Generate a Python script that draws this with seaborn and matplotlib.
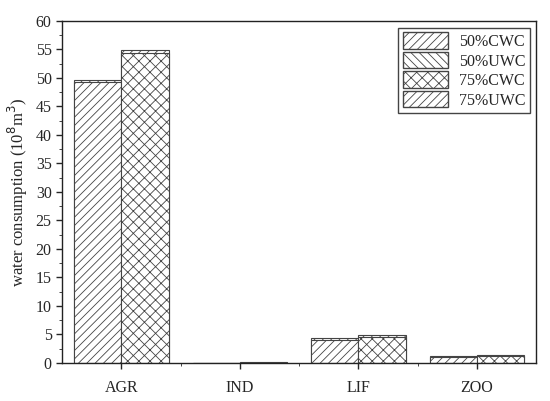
import numpy as np
import pandas as pd
import matplotlib
matplotlib.use('Agg')
import matplotlib.pyplot as plt
import seaborn as sns
from matplotlib.patches import Patch
from matplotlib.ticker import MultipleLocator, AutoMinorLocator

sns.set_style('ticks')
plt.rcParams['font.family'] = ['Liberation Serif', 'DejaVu Serif']
plt.rcParams['hatch.linewidth'] = 0.6
plt.rcParams['hatch.color'] = '#777777'

## data ##
sectors = ['AGR', 'IND', 'LIF', 'ZOO']
cwc_50 = [49.3, 0.05, 4.1, 1.1]
uwc_50 = [0.4, 0.02, 0.25, 0.15]
cwc_75 = [54.4, 0.06, 4.6, 1.25]
uwc_75 = [0.5, 0.02, 0.3, 0.15]

df = pd.DataFrame({
    'sector': sectors * 2,
    'level': ['50%'] * 4 + ['75%'] * 4,
    'cwc': cwc_50 + cwc_75,
    'total': list(np.add(cwc_50, uwc_50)) + list(np.add(cwc_75, uwc_75)),
})

fig = plt.figure(figsize=(5.5, 4.01), dpi=100)
ax = fig.add_axes([0.113, 0.095, 0.862, 0.853])

pal = {'50%': 'white', '75%': 'white'}
# totals first (UWC shows as the strip on top), then CWC over it
sns.barplot(data=df, x='sector', y='total', hue='level', palette=pal,
            edgecolor='#444444', linewidth=0.8, ax=ax, legend=False)
sns.barplot(data=df, x='sector', y='cwc', hue='level', palette=pal,
            edgecolor='#444444', linewidth=0.8, ax=ax, legend=False)

hatches = ['\\\\\\\\'] * 4 + ['////'] * 4 + ['////'] * 4 + ['xxx'] * 4
for p, h in zip(ax.patches, hatches):
    p.set_hatch(h)

ax.set_xlim(-0.5, 3.5)
ax.set_ylim(0, 60)
ax.yaxis.set_major_locator(MultipleLocator(5))
ax.yaxis.set_minor_locator(AutoMinorLocator(2))
ax.set_xticks(range(4))
ax.set_xticks([0.5, 1.5, 2.5], minor=True)
ax.tick_params(axis='both', direction='out', length=4, width=1, labelsize=11.5)
ax.tick_params(axis='both', which='minor', direction='out', length=2.5)
ax.tick_params(axis='x', pad=8)
for s in ax.spines.values():
    s.set_color('#222222')
    s.set_linewidth(1)
ax.set_xlabel('')
ax.set_ylabel('water consumption (10$^8$m$^3$)', fontsize=12)

handles = [Patch(facecolor='white', edgecolor='#444444', hatch='////', label='50%CWC'),
           Patch(facecolor='white', edgecolor='#444444', hatch='\\\\\\\\', label='50%UWC'),
           Patch(facecolor='white', edgecolor='#444444', hatch='xxx', label='75%CWC'),
           Patch(facecolor='white', edgecolor='#444444', hatch='////', label='75%UWC')]
leg = ax.legend(handles=handles, loc='upper right', fontsize=11.5, fancybox=False,
                edgecolor='#444444', framealpha=1, handlelength=2.8, handleheight=1.2,
                labelspacing=0.12, borderpad=0.3, handletextpad=0.7,
                borderaxespad=0, bbox_to_anchor=(0.987, 0.98))

fig.savefig('out.png', dpi=100)
